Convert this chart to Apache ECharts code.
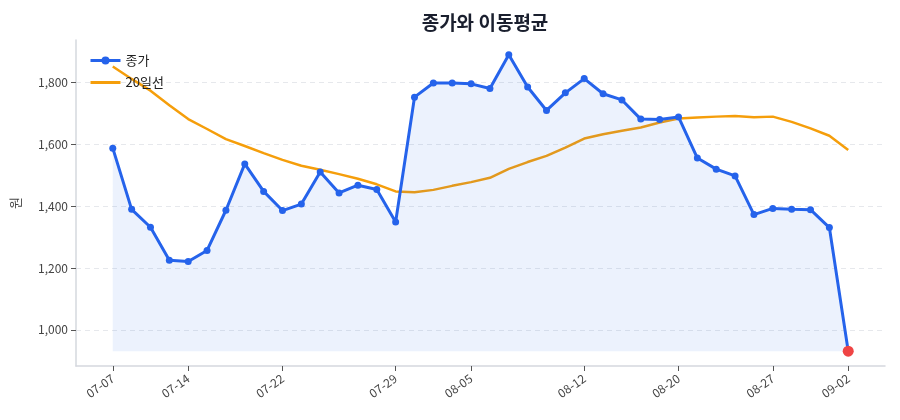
<!DOCTYPE html>
<html><head><meta charset="utf-8">
<script src="https://cdn.jsdelivr.net/npm/echarts@6/dist/echarts.min.js"></script>
<style>html,body{margin:0;padding:0;background:#fff}#c{width:900px;height:420px}</style>
</head><body><div id="c"></div>
<script>
const dates = ['07-07','07-08','07-09','07-10','07-14','07-15','07-16','07-17','07-18','07-22',
  '07-23','07-24','07-25','07-26','07-28','07-29','07-30','07-31','08-01','08-05',
  '08-06','08-07','08-08','08-09','08-11','08-12','08-13','08-14','08-18','08-19',
  '08-20','08-21','08-22','08-25','08-26','08-27','08-28','08-29','09-01','09-02'];
const close = [1588,1390,1332,1225,1221,1257,1387,1537,1448,1386,
  1407,1511,1443,1468,1454,1349,1753,1799,1799,1796,
  1781,1890,1786,1710,1767,1813,1764,1744,1682,1681,
  1689,1556,1520,1498,1373,1393,1390,1389,1331,931];
const ma20 = [1852,1812,1774,1727,1682,1650,1617,1595,1572,1550,
  1531,1518,1504,1489,1471,1448,1445,1453,1466,1478,
  1492,1521,1543,1563,1590,1619,1633,1644,1655,1671,
  1684,1687,1690,1692,1688,1690,1673,1652,1628,1582];
const xTickLabels = ['07-07','07-14','07-22','07-29','08-05','08-12','08-20','08-27','09-02'];
const yTicks = [1000,1200,1400,1600,1800];

const FONT = '"Noto Sans CJK KR", "Noto Sans", sans-serif';
const xTickIdx = xTickLabels.map(d => dates.indexOf(d));
const n = dates.length;
const vmin = Math.min(...close.concat(ma20)), vmax = Math.max(...close.concat(ma20));
const pad = (vmax - vmin) * 0.05;
const closeData = close.map((v, i) => i === n - 1
  ? {value: [i, v], symbolSize: 11, itemStyle: {color: '#ef4444', borderWidth: 0}}
  : [i, v]);

const chart = echarts.init(document.getElementById('c'), null, {renderer: 'canvas'});
chart.setOption({
  animation: false,
  textStyle: {fontFamily: FONT},
  title: {
    text: '종가와 이동평균', left: 480, top: 8, textAlign: 'center',
    textStyle: {fontFamily: FONT, fontSize: 19, fontWeight: 'bold', color: '#1a1f2e'}
  },
  legend: {
    orient: 'vertical', left: 84, top: 49, itemWidth: 30, itemHeight: 10, itemGap: 9,
    textStyle: {fontFamily: FONT, fontSize: 13, color: '#222'},
    data: [
      {name: '종가', lineStyle: {width: 3}},
      {name: '20일선', lineStyle: {width: 3}, itemStyle: {opacity: 0}}
    ]
  },
  grid: {left: 76, right: 15, top: 40, bottom: 54, containLabel: false},
  xAxis: {
    type: 'value', min: -(n - 1) * 0.05, max: (n - 1) * 1.05,
    axisLine: {show: true, onZero: false, lineStyle: {color: '#d5d8de', width: 1.5}},
    axisTick: {show: true, customValues: xTickIdx, length: 5, lineStyle: {color: '#555'}},
    axisLabel: {
      customValues: xTickIdx, rotate: 35, fontSize: 12, color: '#444', margin: 11,
      fontFamily: FONT, formatter: v => dates[Math.round(v)]
    },
    splitLine: {show: false}
  },
  yAxis: {
    type: 'value', min: vmin - pad, max: vmax + pad,
    name: '원', nameLocation: 'middle', nameGap: 54, nameRotate: 90,
    nameTextStyle: {fontFamily: FONT, fontSize: 13, color: '#444'},
    axisLine: {show: true, onZero: false, lineStyle: {color: '#d5d8de', width: 1.5}},
    axisTick: {show: true, customValues: yTicks, length: 5, lineStyle: {color: '#555'}},
    axisLabel: {
      customValues: yTicks, fontSize: 12, color: '#444', fontFamily: FONT, margin: 8,
      formatter: v => v.toLocaleString('en-US')
    },
    splitLine: {show: true, lineStyle: {color: '#e6e8ec', type: [5, 4], width: 1}}
  },
  series: [
    {
      name: '종가', type: 'line', data: closeData, symbol: 'circle', symbolSize: 7,
      showSymbol: true, z: 3,
      lineStyle: {color: '#2563eb', width: 3},
      itemStyle: {color: '#2563eb'},
      areaStyle: {color: 'rgba(37,99,235,0.12)', origin: Math.min(...close)}
    },
    {
      name: '20일선', type: 'line', data: ma20.map((v, i) => [i, v]), showSymbol: false,
      symbol: 'none', z: 2,
      lineStyle: {color: '#f59e0b', width: 2.5},
      itemStyle: {color: '#f59e0b'}
    }
  ]
});
</script></body></html>
